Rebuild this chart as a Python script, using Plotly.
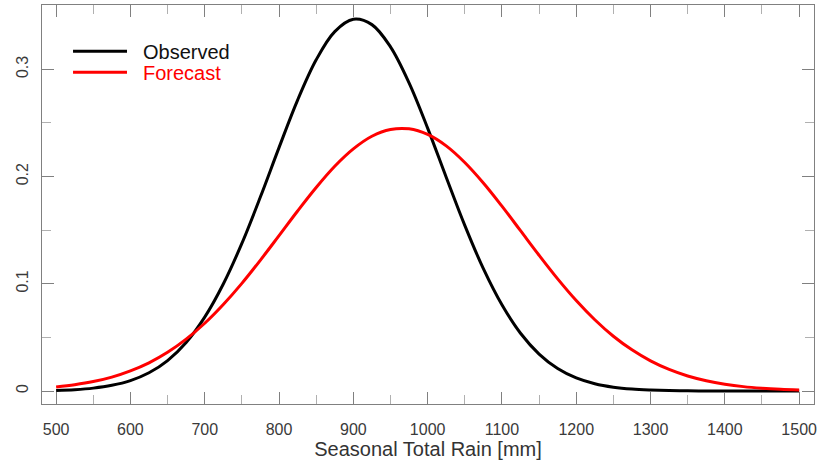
import plotly.graph_objects as go

# Seasonal total rain [mm]
rain_mm = [500, 525, 550, 575, 600, 625, 650, 675, 700, 725, 750, 775, 800, 825, 850,
           875, 900, 925, 950, 975, 1000, 1025, 1050, 1075, 1100, 1125, 1150, 1175,
           1200, 1225, 1250, 1275, 1300, 1325, 1350, 1375, 1400, 1425, 1450, 1475, 1500]

observed = [0.0006, 0.0013, 0.0027, 0.0053, 0.0097, 0.0170, 0.0284, 0.0453, 0.0689,
            0.0998, 0.1377, 0.1811, 0.2270, 0.2713, 0.3089, 0.3352, 0.3467, 0.3417,
            0.3210, 0.2874, 0.2452, 0.1994, 0.1545, 0.1141, 0.0804, 0.0539, 0.0345,
            0.0210, 0.0122, 0.0068, 0.0036, 0.0018, 0.0009, 0.0004, 0.0002, 0.0001,
            0.0000, 0.0000, 0.0000, 0.0000, 0.0000]

forecast = [0.0038, 0.0059, 0.0088, 0.0130, 0.0188, 0.0263, 0.0361, 0.0484, 0.0632,
            0.0807, 0.1004, 0.1221, 0.1449, 0.1679, 0.1898, 0.2096, 0.2258, 0.2376,
            0.2439, 0.2445, 0.2393, 0.2286, 0.2131, 0.1940, 0.1724, 0.1495, 0.1266,
            0.1046, 0.0844, 0.0665, 0.0511, 0.0384, 0.0281, 0.0201, 0.0140, 0.0096,
            0.0064, 0.0041, 0.0026, 0.0016, 0.0010]

x_ticks = [500, 600, 700, 800, 900, 1000, 1100, 1200, 1300, 1400, 1500]
x_minor = [550, 650, 750, 850, 950, 1050, 1150, 1250, 1350, 1450]
y_ticks = [0, 0.1, 0.2, 0.3]
y_tick_labels = ["0", "0.1", "0.2", "0.3"]
y_minor = [0.05, 0.15, 0.25]

series_names = ["Observed", "Forecast"]
series_colors = ["#000000", "#ff0000"]
text_colors = ["#111111", "#ff0000"]

fig = go.Figure()
for name, vals, col in zip(series_names, [observed, forecast], series_colors):
    fig.add_trace(go.Scatter(x=rain_mm, y=vals, mode="lines", name=name,
                             line=dict(color=col, width=3, shape="spline", smoothing=1.0),
                             showlegend=False))

axis_common = dict(
    showgrid=False, zeroline=False, showline=True, linecolor="#808080", linewidth=1.3,
    mirror="allticks", ticks="inside", ticklen=12, tickwidth=1.3, tickcolor="#808080",
    tickfont=dict(family="Liberation Sans, Arial, sans-serif", size=16, color="#3a3a3a"),
)

fig.update_xaxes(range=[481, 1520], tickmode="array", tickvals=x_ticks,
                 ticklabelstandoff=11,
                 minor=dict(tickmode="array", tickvals=x_minor, ticks="inside", ticklen=9,
                            tickcolor="#b0b0b0", tickwidth=1.3),
                 title=dict(text="Seasonal Total Rain [mm]", standoff=1,
                            font=dict(family="Liberation Sans, Arial, sans-serif", size=20,
                                      color="#333333")),
                 **axis_common)
fig.update_yaxes(range=[-0.0121, 0.360], tickmode="array", tickvals=y_ticks,
                 ticktext=y_tick_labels, tickangle=-90, ticklabelstandoff=6,
                 minor=dict(tickmode="array", tickvals=y_minor, ticks="inside", ticklen=9,
                            tickcolor="#b0b0b0", tickwidth=1.3),
                 **axis_common)

# Legend drawn in the upper-left corner (paper coordinates)
legend_rows_y = [0.884, 0.8315]
for name, lc, tc, yy in zip(series_names, series_colors, text_colors, legend_rows_y):
    fig.add_shape(type="line", xref="paper", yref="paper", x0=0.0402, x1=0.1101,
                  y0=yy, y1=yy, line=dict(color=lc, width=3))
    fig.add_annotation(xref="paper", yref="paper", x=0.1285, y=yy - 0.003, text=name,
                       showarrow=False, xanchor="left", yanchor="middle",
                       font=dict(family="Liberation Sans, Arial, sans-serif", size=20, color=tc))

fig.update_layout(width=833, height=460, margin=dict(l=42, r=19, t=5, b=56),
                  plot_bgcolor="white", paper_bgcolor="white", showlegend=False)

fig.write_html("out.html", config={"displayModeBar": False},
               post_script="document.body.style.margin='0px';")
